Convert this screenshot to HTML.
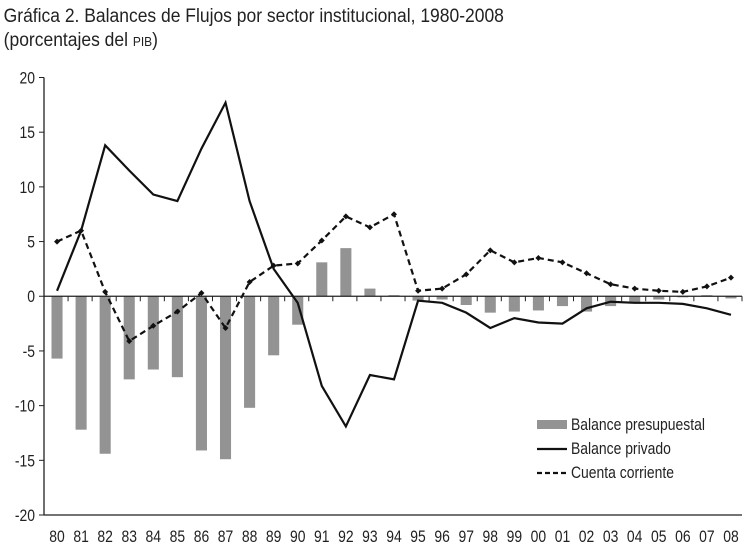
<!DOCTYPE html>
<html><head><meta charset="utf-8"><style>
body{margin:0;background:#fff;width:750px;height:549px;overflow:hidden}
text{font-family:"Liberation Sans",sans-serif;fill:#222}
</style></head><body>
<svg id="c" width="750" height="549" xmlns="http://www.w3.org/2000/svg">
<text x="4" y="22" font-size="19" transform="scale(0.92,1)">Gráfica 2. Balances de Flujos por sector institucional, 1980-2008</text>
<text x="4" y="46" font-size="19" transform="scale(0.92,1)">(porcentajes del <tspan font-size="13">PIB</tspan>)</text>
<g id="plot"></g>
</svg>
<script>
const categories=["80","81","82","83","84","85","86","87","88","89","90","91","92","93","94","95","96","97","98","99","00","01","02","03","04","05","06","07","08"];
const presupuestal=[-5.7,-12.2,-14.4,-7.6,-6.7,-7.4,-14.1,-14.9,-10.2,-5.4,-2.6,3.1,4.4,0.7,0.1,-0.4,-0.3,-0.8,-1.5,-1.4,-1.3,-0.9,-1.4,-0.9,-0.6,-0.3,-0.1,0.1,-0.2];
const privado=[0.5,6,13.8,11.5,9.3,8.7,13.5,17.7,8.7,2.5,-0.6,-8.2,-11.9,-7.2,-7.6,-0.4,-0.6,-1.5,-2.9,-2,-2.4,-2.5,-1.1,-0.5,-0.6,-0.6,-0.7,-1.1,-1.7];
const corriente=[5,6,0.4,-4.1,-2.7,-1.4,0.3,-2.9,1.3,2.8,3,5.1,7.3,6.3,7.5,0.5,0.7,2.0,4.2,3.1,3.5,3.1,2.1,1.1,0.7,0.5,0.4,0.9,1.7];
const yTicks=[20,15,10,5,0,-5,-10,-15,-20];
const NS="http://www.w3.org/2000/svg";
const g=document.getElementById('plot');
const X0=44,X1=742,YT=77.5,YB=515;
const bw=(X1-X0)/categories.length;
const x=i=>X0+bw*(i+0.5);
const y=v=>YT+(20-v)*(YB-YT)/40;
function mk(t,a){const e=document.createElementNS(NS,t);for(const k in a)e.setAttribute(k,a[k]);g.appendChild(e);return e;}
presupuestal.forEach((v,i)=>{const e=mk('rect',{x:x(i)-bw*0.23+1,y:Math.min(y(v),y(0)),width:bw*0.46,height:Math.abs(y(v)-y(0)),fill:'#939393'});

});
let a=mk('line',{x1:X0,y1:YT,x2:X0,y2:YB,stroke:'#222','stroke-width':1.3});


a=mk('line',{x1:X0,y1:YB,x2:X1,y2:YB,stroke:'#222','stroke-width':1.3});


a=mk('line',{x1:X0,y1:y(0),x2:X1,y2:y(0),stroke:'#222','stroke-width':1.3});


for(let i=1;i<=categories.length;i++){mk('line',{x1:X0+bw*i,y1:y(0),x2:X0+bw*i,y2:y(0)+5,stroke:'#222','stroke-width':1});}
yTicks.forEach(v=>{mk('line',{x1:X0-5,y1:y(v),x2:X0,y2:y(v),stroke:'#222'});
const t=mk('text',{x:(X0-9)/0.82,y:y(v)+6,'font-size':17,'text-anchor':'end',transform:'scale(0.82,1)'});t.textContent=v;

});
categories.forEach((c,i)=>{const t=mk('text',{x:(x(i)+1)/0.82,y:542,'font-size':17,'text-anchor':'middle',transform:'scale(0.82,1)'});t.textContent=c;

});
let p=mk('polyline',{points:privado.map((v,i)=>(x(i)+1)+','+y(v)).join(' '),fill:'none',stroke:'#111','stroke-width':2.2});


p=mk('polyline',{points:corriente.map((v,i)=>(x(i)+1)+','+y(v)).join(' '),fill:'none',stroke:'#111','stroke-width':2.2,'stroke-dasharray':'6,4'});


corriente.forEach((v,i)=>{const cx=x(i)+1;const d=mk('path',{d:`M${cx-3},${y(v)}L${cx},${y(v)-3}L${cx+3},${y(v)}L${cx},${y(v)+3}Z`,fill:'#111'});

});
let l=mk('rect',{x:537,y:420,width:30,height:9,fill:'#939393'});


l=mk('line',{x1:537,y1:449,x2:567,y2:449,stroke:'#111','stroke-width':2.2});


l=mk('line',{x1:537,y1:473,x2:567,y2:473,stroke:'#111','stroke-width':2.2,'stroke-dasharray':'5,3'});


[["Balance presupuestal",430],["Balance privado",454],["Cuenta corriente",478]].forEach(([s,yy])=>{const t=mk('text',{x:571/0.82,y:yy,'font-size':17,transform:'scale(0.82,1)'});t.textContent=s;

});
</script>
</body></html>
